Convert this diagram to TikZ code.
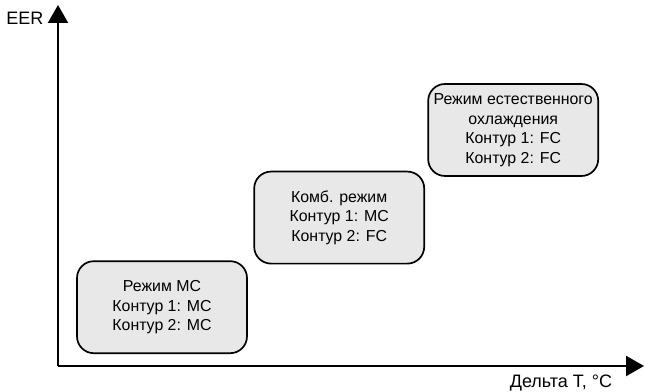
\documentclass[tikz,border=0pt]{standalone}
\usepackage{fontspec}
\setmainfont{Liberation Sans}
\usetikzlibrary{arrows.meta,positioning}

\begin{document}
\begin{tikzpicture}
  %
% Styles
%
\tikzset{axe/.style={line width=1.7pt, -{Triangle[width=0.5cm,length=0.45cm]}}};%
\tikzset{mode/.style={draw, line width=1.2pt, rounded corners=0.42cm, fill=black!9,
    minimum width=4.25cm, minimum height=2.3cm, inner xsep=0pt, align=center,
    font=\fontsize{11.3}{13.9}\selectfont}};%
\tikzset{etiquette/.style={font=\fontsize{12.8}{15}\selectfont, inner sep=0pt}};%

%
% Macros
%
\pgfmathsetmacro{\xmax}{14.65};%
\pgfmathsetmacro{\ymax}{9.025};%

\useasboundingbox (-1.45,-0.65) rectangle (14.7,9.15);%

%
% Axes
%
\coordinate (origine) at (0,0);%
\coordinate (finx) at (\xmax,0);%
\coordinate (finy) at (0,\ymax);%
\draw[axe] (origine) -- (finy);%
\draw[axe] (origine) -- (finx);%
\node[etiquette, anchor=east] (eer) at (-0.36,8.68) {EER};%
\node[etiquette] (deltat) at (12.575,-0.43) {Дельта Т, °С};%

%
% Modes
%
\node[mode] (mc) at (2.6,1.47) {Режим МС\\Контур 1: МС\\Контур 2: МС};%
\node[mode] (komb) at (7.03,3.71) {Комб. режим\\Контур 1: МС\\Контур 2: FC};%
\node[mode] (fc) at (11.38,5.9) {Режим естественного\\охлаждения\\Контур 1: FC\\Контур 2: FC};%
\end{tikzpicture}
\end{document}
